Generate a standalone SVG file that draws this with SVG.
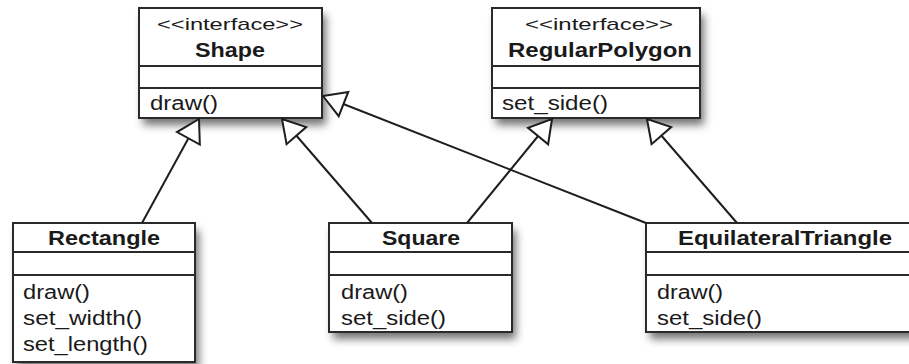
<svg xmlns="http://www.w3.org/2000/svg" width="909" height="364" viewBox="0 0 909 364">
  <style>
    .box { fill: #ffffff; stroke: #2a2a2a; stroke-width: 2; }
    .shade { fill: #000000; fill-opacity: 0.55; filter: url(#soft); }
    .div { stroke: #2a2a2a; stroke-width: 2; }
    .edge { fill: none; stroke: #1e1e1e; stroke-width: 2; marker-end: url(#realize); }
    text { font-family: "Liberation Sans", Arial, Helvetica, sans-serif; fill: #1a1a1a; }
    .stereo { font-size: 17px; }
    .name { font-size: 20px; font-weight: bold; }
    .op { font-size: 20px; }
  </style>
  <defs>
    <filter id="soft" x="-20%" y="-20%" width="140%" height="140%">
      <feGaussianBlur stdDeviation="4"/>
    </filter>
    <!-- hollow triangle head for generalization / realization -->
    <marker id="realize" viewBox="-25 -16 28 32" markerWidth="28" markerHeight="32" refX="0" refY="0" orient="auto" markerUnits="userSpaceOnUse">
      <path d="M0,0 L-22,-13 L-22,13 Z" fill="#ffffff" stroke="#1e1e1e" stroke-width="2" stroke-linejoin="miter"/>
    </marker>
  </defs>

  <rect width="909" height="364" fill="#ffffff"/>

  <!-- soft drop shadows under the boxes -->
  <g id="shadows">
    <rect class="shade" x="143" y="15" width="183" height="110"/>
    <rect class="shade" x="496" y="15" width="208" height="110"/>
    <rect class="shade" x="17" y="230" width="182" height="139"/>
    <rect class="shade" x="333" y="230" width="183" height="109"/>
    <rect class="shade" x="650" y="230" width="278" height="109"/>
  </g>

  <!-- class and interface boxes -->
  <g id="shape">
    <rect class="box" x="139" y="8" width="183" height="110"/>
    <line class="div" x1="139" y1="66" x2="322" y2="66"/>
    <line class="div" x1="139" y1="88" x2="322" y2="88"/>
    <text class="stereo" x="157" y="30" textLength="146" lengthAdjust="spacingAndGlyphs">&lt;&lt;interface&gt;&gt;</text>
    <text class="name" x="195" y="57" textLength="70" lengthAdjust="spacingAndGlyphs">Shape</text>
    <text class="op" x="150" y="110" textLength="68" lengthAdjust="spacingAndGlyphs">draw()</text>
  </g>

  <g id="regularPolygon">
    <rect class="box" x="492" y="8" width="208" height="110"/>
    <line class="div" x1="492" y1="66" x2="700" y2="66"/>
    <line class="div" x1="492" y1="88" x2="700" y2="88"/>
    <text class="stereo" x="525" y="30" textLength="148" lengthAdjust="spacingAndGlyphs">&lt;&lt;interface&gt;&gt;</text>
    <text class="name" x="508" y="57" textLength="184" lengthAdjust="spacingAndGlyphs">RegularPolygon</text>
    <text class="op" x="502" y="110" textLength="106" lengthAdjust="spacingAndGlyphs">set_side()</text>
  </g>

  <g id="rectangle">
    <rect class="box" x="13" y="223" width="182" height="139"/>
    <line class="div" x1="13" y1="252" x2="195" y2="252"/>
    <line class="div" x1="13" y1="275" x2="195" y2="275"/>
    <text class="name" x="48" y="245" textLength="112" lengthAdjust="spacingAndGlyphs">Rectangle</text>
    <text class="op" x="23" y="299" textLength="67" lengthAdjust="spacingAndGlyphs">draw()</text>
    <text class="op" x="23" y="325" textLength="119" lengthAdjust="spacingAndGlyphs">set_width()</text>
    <text class="op" x="23" y="351" textLength="125" lengthAdjust="spacingAndGlyphs">set_length()</text>
  </g>

  <g id="square">
    <rect class="box" x="329" y="223" width="183" height="109"/>
    <line class="div" x1="329" y1="252" x2="512" y2="252"/>
    <line class="div" x1="329" y1="275" x2="512" y2="275"/>
    <text class="name" x="382" y="245" textLength="78" lengthAdjust="spacingAndGlyphs">Square</text>
    <text class="op" x="341" y="299" textLength="67" lengthAdjust="spacingAndGlyphs">draw()</text>
    <text class="op" x="341" y="325" textLength="105" lengthAdjust="spacingAndGlyphs">set_side()</text>
  </g>

  <g id="equilateralTriangle">
    <rect class="box" x="646" y="223" width="278" height="109"/>
    <line class="div" x1="646" y1="252" x2="924" y2="252"/>
    <line class="div" x1="646" y1="275" x2="924" y2="275"/>
    <text class="name" x="678" y="245" textLength="214" lengthAdjust="spacingAndGlyphs">EquilateralTriangle</text>
    <text class="op" x="657" y="299" textLength="66" lengthAdjust="spacingAndGlyphs">draw()</text>
    <text class="op" x="657" y="325" textLength="105" lengthAdjust="spacingAndGlyphs">set_side()</text>
  </g>

  <!-- inheritance connectors -->
  <g id="connectors">
    <path class="edge" d="M142,223 L199,119"/>
    <path class="edge" d="M372,223 L282,119"/>
    <path class="edge" d="M646,223 L323,96"/>
    <path class="edge" d="M467,223 L552,119"/>
    <path class="edge" d="M737,223 L647,119"/>
  </g>
</svg>
